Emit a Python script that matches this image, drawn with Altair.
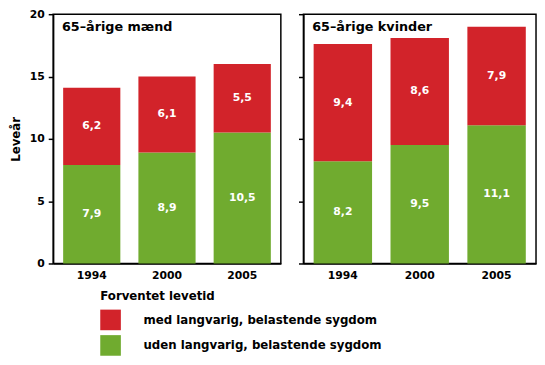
import altair as alt
import pandas as pd

years = ["1994", "2000", "2005"]
men_with = [6.2, 6.1, 5.5]
men_without = [7.9, 8.9, 10.5]
women_with = [9.4, 8.6, 7.9]
women_without = [8.2, 9.5, 11.1]
cat_with = "med langvarig, belastende sygdom"
cat_without = "uden langvarig, belastende sygdom"
panel_titles = ["65–årige mænd", "65–årige kvinder"]
legend_title = "Forventet levetid"
y_title = "Leveår"
y_ticks = [0, 5, 10, 15, 20]

RED = "#d2232a"
GREEN = "#70ab2f"
FONT = "DejaVu Sans"


def fmt(v):
    return f"{v:.1f}".replace(".", ",")


def frame(with_vals, without_vals):
    rows = []
    for i, yr in enumerate(years):
        rows.append(dict(year=yr, cat=cat_without, value=without_vals[i], order=0,
                         label=fmt(without_vals[i])))
        rows.append(dict(year=yr, cat=cat_with, value=with_vals[i], order=1,
                         label=fmt(with_vals[i])))
    return pd.DataFrame(rows)


legend = alt.Legend(
    orient="none", legendX=48, legendY=282, direction="vertical",
    title=legend_title, symbolType="square", symbolSize=441,
    symbolStrokeWidth=0, labelOffset=23, rowPadding=5, titlePadding=7,
    titleFont=FONT, titleFontSize=12, titleFontWeight="bold", titleColor="black",
    labelFont=FONT, labelFontSize=12, labelFontWeight="bold", labelColor="black",
    labelLimit=400,
)


def panel(df, title, width, height, first):
    base = alt.Chart(df).transform_stack(
        stack="value", groupby=["year"], sort=[alt.SortField("order")], as_=["v0", "v1"]
    ).transform_calculate(mid="(datum.v0 + datum.v1) / 2")
    x = alt.X("year:N", sort=years,
              scale=alt.Scale(paddingInner=0.24, paddingOuter=0.133),
              axis=alt.Axis(title=None, labelAngle=0, ticks=False, labelPadding=6))
    yaxis = alt.Axis(values=y_ticks, grid=False, tickSize=5, labelPadding=4,
                     title=y_title if first else None, labels=first, titlePadding=7)
    bars = base.mark_bar().encode(
        x=x,
        y=alt.Y("v1:Q", scale=alt.Scale(domain=[0, 20], nice=False), axis=yaxis),
        y2="v0:Q",
        color=alt.Color("cat:N", scale=alt.Scale(domain=[cat_with, cat_without],
                                                 range=[RED, GREEN]), legend=legend),
    )
    labels = base.mark_text(color="white", font=FONT, fontWeight="bold",
                            fontSize=11, baseline="middle").encode(
        x=alt.X("year:N", sort=years),
        y=alt.Y("mid:Q"),
        text="label:N",
    )
    ttl = alt.Chart(pd.DataFrame({"t": [title]})).mark_text(
        align="left", baseline="middle", font=FONT, fontWeight="bold",
        fontSize=13, color="black"
    ).encode(x=alt.value(9), y=alt.value(13), text="t:N")
    return alt.layer(bars, labels, ttl).properties(width=width, height=height)


left = panel(frame(men_with, men_without), panel_titles[0], 232, 254, True)
right = panel(frame(women_with, women_without), panel_titles[1], 237, 254, False)

chart = alt.hconcat(left, right, spacing=15).resolve_scale(color="shared").properties(
    padding={"left": 0, "top": -4, "right": 0, "bottom": 0}
).configure_view(stroke="black", strokeWidth=1.5).configure_axis(
    labelFont=FONT, labelFontSize=11, labelFontWeight="bold", labelColor="black",
    titleFont=FONT, titleFontSize=12, titleFontWeight="bold", titleColor="black",
    tickColor="black", domainColor="black", domainWidth=1.5, tickWidth=1.5,
)

chart.save("out.html", embed_options={"renderer": "svg", "actions": False})
